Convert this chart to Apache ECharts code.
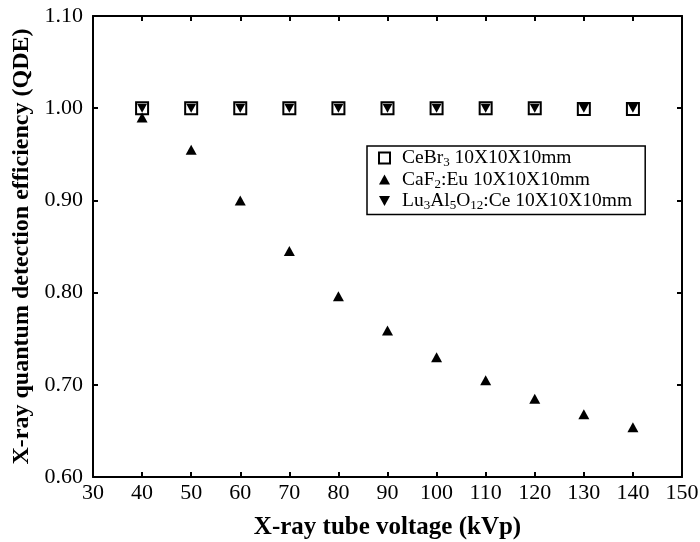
<!DOCTYPE html>
<html>
<head>
<meta charset="utf-8">
<script src="https://cdn.jsdelivr.net/npm/echarts@6/dist/echarts.min.js"></script>
<style>
  html, body { margin: 0; padding: 0; background: #fff; }
  #chart { width: 700px; height: 542px; }
</style>
</head>
<body>
<div id="chart"></div>
<script>
  // tube voltage (kVp)
  var voltages = [40, 50, 60, 70, 80, 90, 100, 110, 120, 130, 140]
  var cebr3 = [1.000, 1.000, 1.000, 1.000, 1.000, 1.000, 1.000, 1.000, 1.000, 0.999, 0.999]
  var caf2 = [0.990, 0.955, 0.900, 0.845, 0.796, 0.759, 0.730, 0.705, 0.685, 0.668, 0.654]
  var luag = [1.000, 1.000, 1.000, 1.000, 1.000, 1.000, 1.000, 1.000, 1.000, 1.000, 1.000]
  var yTicks = ['0.60', '0.70', '0.80', '0.90', '1.00', '1.10']

  var font = '"Liberation Serif", "Times New Roman", serif'
  var downTri = 'path://M0,0 L10,0 L5,9 Z'
  var upTri = 'path://M5,0 L10,9 L0,9 Z'

  function pairs(ys) {
    return voltages.map(function (v, i) { return [v, ys[i]] })
  }

  var chart = echarts.init(document.getElementById('chart'))
  var axisBase = {
    type: 'value',
    axisLine: { show: true, lineStyle: { color: '#000', width: 2 } },
    axisTick: { show: true, inside: true, length: 5, lineStyle: { color: '#000', width: 2 } },
    splitLine: { show: false }
  }
  chart.setOption({
    animation: false,
    grid: { left: 93, right: 18, top: 16, bottom: 65, containLabel: false, outerBoundsMode: 'none' },
    xAxis: [
      Object.assign({}, axisBase, {
        min: 30, max: 150, interval: 10,
        axisLabel: { color: '#000', fontSize: 22, fontFamily: font, margin: 5 },
        name: 'X-ray tube voltage (kVp)',
        nameLocation: 'middle',
        nameGap: 38,
        nameTextStyle: { color: '#000', fontSize: 25, fontWeight: 'bold', fontFamily: font }
      }),
      Object.assign({}, axisBase, {
        position: 'top', min: 30, max: 150, interval: 10,
        axisLabel: { show: false }
      })
    ],
    yAxis: [
      Object.assign({}, axisBase, {
        min: 0.6, max: 1.1, interval: 0.1,
        axisLabel: {
          color: '#000', fontSize: 22, fontFamily: font, margin: 10,
          formatter: function (v) { return yTicks[Math.round((v - 0.6) * 10)] }
        },
        name: 'X-ray quantum detection efficiency (QDE)',
        nameLocation: 'middle',
        nameGap: 59,
        nameTextStyle: { color: '#000', fontSize: 24, fontWeight: 'bold', fontFamily: font }
      }),
      Object.assign({}, axisBase, {
        position: 'right', min: 0.6, max: 1.1, interval: 0.1,
        axisLabel: { show: false }
      })
    ],
    legend: {
      left: 367,
      top: 146,
      orient: 'vertical',
      padding: [2, 13, 2, 11],
      itemGap: 0,
      itemWidth: 11,
      itemHeight: 11,
      borderColor: '#000',
      borderWidth: 1.5,
      textStyle: {
        color: '#000', fontSize: 19.5, fontFamily: font, padding: [0, 0, 0, 7],
        rich: {
          a: { fontSize: 19.5, fontFamily: font, color: '#000' },
          s: { fontSize: 13, fontFamily: font, color: '#000', padding: [10, 0, 0, 0] }
        }
      },
      formatter: function (name) {
        if (name === 'CeBr3') return '{a|CeBr}{s|3}{a| 10X10X10mm}'
        if (name === 'CaF2') return '{a|CaF}{s|2}{a|:Eu 10X10X10mm}'
        return '{a|Lu}{s|3}{a|Al}{s|5}{a|O}{s|12}{a|:Ce 10X10X10mm}'
      },
      data: [
        { name: 'CeBr3', icon: 'rect' },
        { name: 'CaF2', icon: upTri },
        { name: 'LuAG', icon: downTri }
      ]
    },
    series: [
      {
        name: 'CeBr3', type: 'scatter', data: pairs(cebr3),
        symbol: 'rect', symbolSize: 12,
        itemStyle: { color: '#fff', borderColor: '#000', borderWidth: 2, opacity: 1 }
      },
      {
        name: 'CaF2', type: 'scatter', data: pairs(caf2),
        symbol: upTri, symbolSize: [11, 10],
        itemStyle: { color: '#000', opacity: 1 }
      },
      {
        name: 'LuAG', type: 'scatter', data: pairs(luag),
        symbol: downTri, symbolSize: [10, 9],
        itemStyle: { color: '#000', opacity: 1 }
      }
    ]
  })
</script>
</body>
</html>
